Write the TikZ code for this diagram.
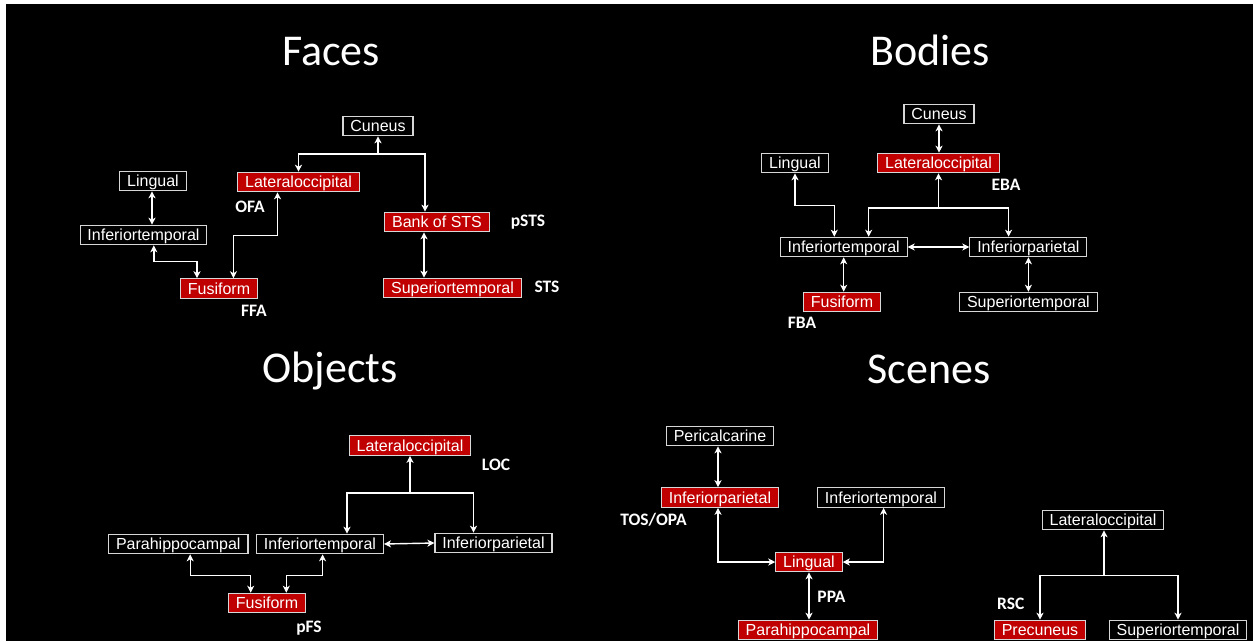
\documentclass[tikz,border=0pt]{standalone}
\usepackage{fontspec}
\usetikzlibrary{arrows.meta,calc}
\newfontfamily\boxfont{Liberation Sans}
\newfontfamily\calfont{Carlito}
\definecolor{boxred}{RGB}{192,0,0}
\definecolor{edgegray}{RGB}{215,215,215}
\tikzset{
  region/.style={draw=edgegray, line width=1.1pt, fill=black, text=white,
    font=\boxfont\fontsize{16}{18}\selectfont, inner xsep=7.4pt, inner ysep=0pt,
    minimum height=19.5pt, text height=13.6pt, text depth=2.2pt},
  hot/.style={region, fill=boxred},
  lab/.style={text=white, font=\calfont\bfseries\fontsize{17.5}{19}\selectfont,
    inner sep=0pt, text height=11.2pt, text depth=0pt},
  ttl/.style={text=white, font=\calfont\fontsize{44}{48}\selectfont, inner sep=0pt, anchor=base},
  arr/.style={-{Stealth[length=7pt,width=7pt,inset=2pt]}, white, line width=1.4pt},
  dbl/.style={{Stealth[length=7pt,width=7pt,inset=2pt]}-{Stealth[length=7pt,width=7pt,inset=2pt]}, white, line width=1.4pt}
}
\begin{document}
\begin{tikzpicture}[x=1pt,y=-1pt]
\useasboundingbox (0,0) rectangle (1253,641);
\fill[white] (0,0) rectangle (1253,641);
\fill[black] (6,4) rectangle (1253,641);

% ---------------- Faces ----------------
\node[ttl] (tFaces) at (331,65) {Faces};
\node[region] (fCun) at (378,126) {Cuneus};
\node[region] (fLing) at (153,181) {Lingual};
\node[hot] (fLO) at (298.5,182) {Lateraloccipital};
\node[region] (fIT) at (143.5,235) {Inferiortemporal};
\node[hot] (fBank) at (437,222) {Bank of STS};
\node[hot] (fFus) at (219,288.5) {Fusiform};
\node[hot] (fSup) at (452.5,288) {Superiortemporal};
\node[lab] (lOFA) at (250,207) {OFA};
\node[lab] (lpSTS) at (528,221) {pSTS};
\node[lab] (lSTS) at (547,287) {STS};
\node[lab] (lFFA) at (254,311) {FFA};
\coordinate (fj) at (378,154);
\draw[arr] (fj) -- (fCun.south);
\draw[arr] (fj) -| (fLO.north);
\draw[arr] (fj) -| ([xshift=-12pt]fBank.north);
\draw[dbl] ([xshift=-1pt]fLing.south) -- ([xshift=-1pt]fLing.south |- fIT.north);
\draw[dbl] ([xshift=10.3pt]fIT.south) -- ++(0,16) -| ([xshift=-22pt]fFus.north);
\draw[dbl] ([xshift=-21pt]fLO.south) -- ++(0,43) -| ([xshift=14.4pt]fFus.north);
\draw[dbl] ([xshift=-13pt]fBank.south) -- ([xshift=-13pt]fBank.south |- fSup.north);

% ---------------- Bodies ----------------
\node[ttl] (tBodies) at (930,65) {Bodies};
\node[region] (bCun) at (939,114) {Cuneus};
\node[region] (bLing) at (795,163) {Lingual};
\node[hot] (bLO) at (938.5,163) {Lateraloccipital};
\node[region] (bIT) at (843.7,247) {Inferiortemporal};
\node[region] (bIP) at (1028.4,247) {Inferiorparietal};
\node[hot] (bFus) at (842,302) {Fusiform};
\node[region] (bSup) at (1028.4,302) {Superiortemporal};
\node[lab] (lEBA) at (1006,185) {EBA};
\node[lab] (lFBA) at (802,323) {FBA};
\draw[dbl] (bCun.south) -- (bCun.south |- bLO.north);
\draw[dbl] (bLing.south) -- ++(0,32) -| ([xshift=-9.4pt]bIT.north);
\coordinate (bj) at (938.5,208);
\draw[arr] (bj) -- (bLO.south);
\draw[arr] (bj) -| ([xshift=25pt]bIT.north);
\draw[arr] (bj) -| ([xshift=-19.8pt]bIP.north);
\draw[dbl] (bIT.east) -- (bIP.west);
\draw[dbl] (bIT.south) -- (bIT.south |- bFus.north);
\draw[dbl] (bIP.south) -- (bIP.south |- bSup.north);

% ---------------- Objects ----------------
\node[ttl] (tObjects) at (330,382) {Objects};
\node[hot] (oLO) at (410,445.5) {Lateraloccipital};
\node[region] (oPH) at (178.3,544) {Parahippocampal};
\node[region] (oIT) at (320,544) {Inferiortemporal};
\node[region] (oIP) at (493.5,543) {Inferiorparietal};
\node[hot] (oFus) at (267,603) {Fusiform};
\node[lab] (lLOC) at (496,465) {LOC};
\node[lab] (lpFS) at (309,627) {pFS};
\coordinate (oj) at (410,493);
\draw[arr] (oj) -- (oLO.south);
\draw[arr] (oj) -| ([xshift=27pt]oIT.north);
\draw[arr] (oj) -| ([xshift=-20pt]oIP.north);
\draw[dbl] (oIT.east) -- (oIP.west);
\draw[dbl] ([xshift=11.9pt]oPH.south) -- ++(0,21) -| ([xshift=-16.3pt]oFus.north);
\draw[dbl] ([xshift=2.6pt]oIT.south) -- ++(0,21) -| ([xshift=19.3pt]oFus.north);

% ---------------- Scenes ----------------
\node[ttl] (tScenes) at (929,383) {Scenes};
\node[region] (sPer) at (720,436) {Pericalcarine};
\node[hot] (sIP) at (720,497.5) {Inferiorparietal};
\node[region] (sIT) at (881,497.5) {Inferiortemporal};
\node[hot] (sLing) at (809,562) {Lingual};
\node[hot] (sPH) at (808,630) {Parahippocampal};
\node[region] (sLO) at (1103,520) {Lateraloccipital};
\node[hot] (sPre) at (1040,630) {Precuneus};
\node[region] (sSup) at (1178,630) {Superiortemporal};
\node[lab] (lTOS) at (653.5,520) {TOS/OPA};
\node[lab] (lPPA) at (831.5,597) {PPA};
\node[lab] (lRSC) at (1010.7,604) {RSC};
\draw[dbl] ([xshift=-2pt]sPer.south) -- ([xshift=-2pt]sPer.south |- sIP.north);
\draw[dbl] ([xshift=-2pt]sIP.south) |- (sLing.west);
\draw[dbl] ([xshift=2.6pt]sIT.south) |- (sLing.east);
\draw[dbl] (sLing.south) -- (sLing.south |- sPH.north);
\coordinate (sj) at (1104,575.7);
\draw[arr] (sj) -- ([xshift=1pt]sLO.south);
\draw[arr] (sj) -| (sPre.north);
\draw[arr] (sj) -| (sSup.north);
\end{tikzpicture}
\end{document}
